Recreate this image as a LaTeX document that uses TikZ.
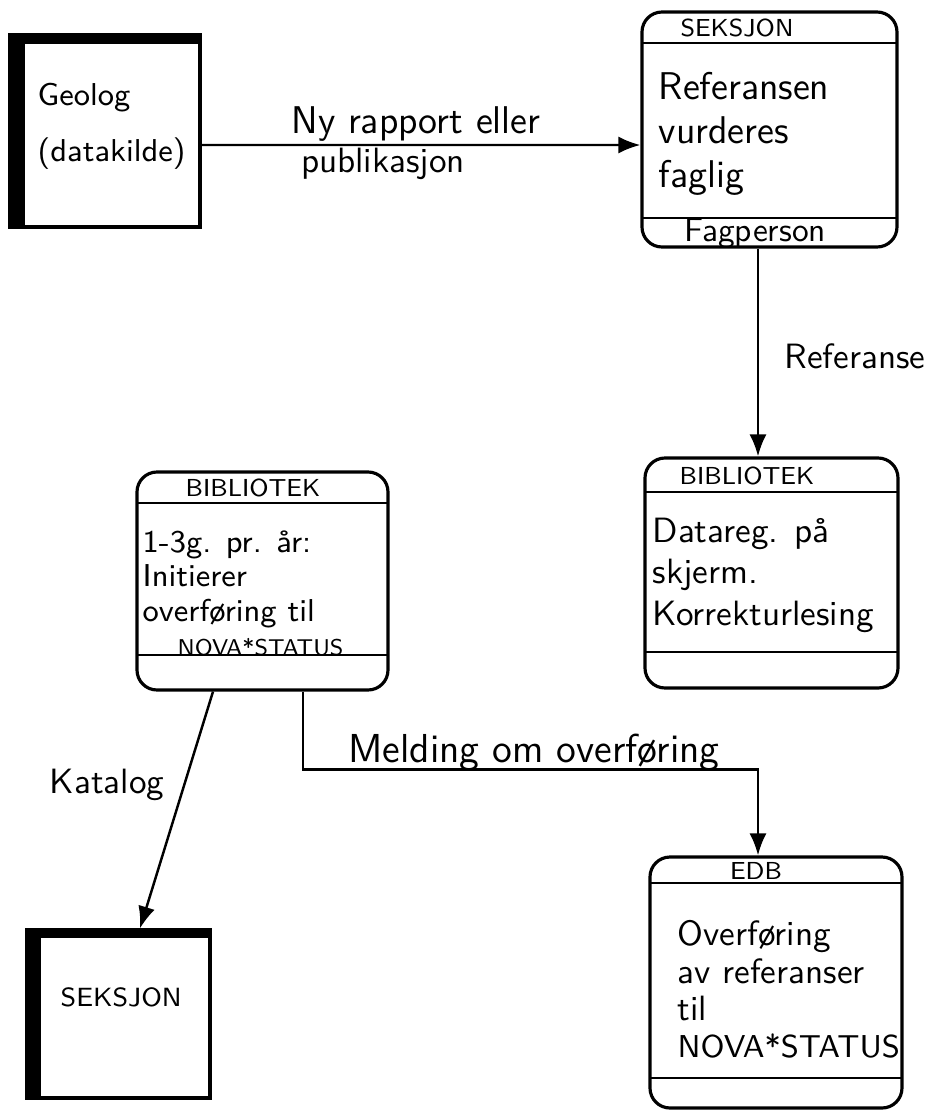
\documentclass[tikz,border=0pt]{standalone}
\usetikzlibrary{arrows.meta,fit,calc}
\begin{document}
\begin{tikzpicture}[x=0.1mm,y=-0.1mm,
  proc/.style={draw, line width=0.9pt, rounded corners=2mm, inner sep=0pt},
  ext/.style={draw, line width=0.9pt, inner sep=0pt},
  divider/.style={line width=0.8pt},
  flow/.style={line width=0.7pt, -{Latex[length=2.2mm,width=1.7mm]}},
  body/.style={font=\sffamily\fontsize{10}{11.5}\selectfont, align=left, anchor=north west, inner sep=0pt},
  hdr/.style={font=\sffamily\fontsize{7}{8}\selectfont, inner sep=0pt},
  lbl/.style={font=\sffamily\fontsize{10}{11.5}\selectfont, inner sep=0pt, align=center},
]
\useasboundingbox (0,0) rectangle (929,1110);
\fill[white] (0,0) rectangle (929,1110);

% external entity: Geolog
\node[ext, fit={(10,35) (200,227)}] (e1) {};
\fill (e1.north west) rectangle ([xshift=1.7mm]e1.south west);
\fill (e1.north west) rectangle ([yshift=-1.1mm]e1.north east);
\node[body, font=\sffamily\fontsize{9}{16}\selectfont] (e1t) at (37,82) {Geolog\\(datakilde)};

% external entity: SEKSJON
\node[ext, fit={(27,930) (210,1098)}] (e2) {};
\fill (e2.north west) rectangle ([xshift=1.6mm]e2.south west);
\fill (e2.north west) rectangle ([yshift=-1mm]e2.north east);
\node[body, font=\sffamily\fontsize{7.5}{9}\selectfont] (e2t) at (60,987) {SEKSJON};

% process: SEKSJON
\node[proc, fit={(642,12) (897,247)}] (p1) {};
\draw[divider] (642,43) -- (897,43);
\draw[divider] (642,218) -- (897,218);
\node[hdr] (p1h) at (737,28) {SEKSJON};
\node[body, font=\sffamily\fontsize{11}{12.5}\selectfont] (p1b) at (658,72) {Referansen\\vurderes\\faglig};
\node[lbl, font=\sffamily\fontsize{9.5}{10}\selectfont] (p1f) at (755,233) {Fagperson};

% process: BIBLIOTEK (left)
\node[proc, fit={(137,472) (388,690)}] (p2) {};
\draw[divider] (137,503) -- (388,503);
\draw[divider] (137,655) -- (388,655);
\node[hdr] (p2h) at (253,488) {BIBLIOTEK};
\node[body, font=\sffamily\fontsize{9}{9.8}\selectfont] (p2b) at (142,530) {1-3g. pr. år:\\Initierer\\overføring til\\\hspace*{3.5mm}{\fontsize{6.5}{9.8}\selectfont NOVA*STATUS}};

% process: BIBLIOTEK (right)
\node[proc, fit={(645,458) (898,688)}] (p3) {};
\draw[divider] (645,492) -- (898,492);
\draw[divider] (645,652) -- (898,652);
\node[hdr] (p3h) at (747,476) {BIBLIOTEK};
\node[body, font=\sffamily\fontsize{10}{11.8}\selectfont] (p3b) at (652,517) {Datareg. på\\skjerm.\\Korrekturlesing};

% process: EDB
\node[proc, fit={(650,857) (902,1108)}] (p4) {};
\draw[divider] (650,883) -- (902,883);
\draw[divider] (650,1078) -- (902,1078);
\node[hdr] (p4h) at (756,871) {EDB};
\node[body, font=\sffamily\fontsize{10}{10.6}\selectfont] (p4b) at (677,920) {Overføring\\av referanser\\til\\{\fontsize{9}{10.6}\selectfont NOVA*STATUS}};

% data flows
\draw[flow] ([yshift=-1.4mm]e1.east) -- ([yshift=-1.55mm]p1.west);
\node[lbl, font=\sffamily\fontsize{11}{12}\selectfont] (l1) at (416,124) {Ny rapport eller};
\node[lbl] (l1b) at (383,164) {publikasjon};

\draw[flow] ([xshift=-1.15mm]p1.south) -- ([xshift=-1.15mm]p1.south |- p3.north);
\node[lbl] (l2) at (855,356) {Referanse};

\draw[flow] ([xshift=-4.95mm]p2.south) -- ([xshift=2.15mm]e2.north);
\node[lbl] (l3) at (107,785) {Katalog};

\draw[flow] ([xshift=4.05mm]p2.south) -- ++(0,78) -| ([xshift=-1.8mm]p4.north);
\node[lbl, font=\sffamily\fontsize{11.5}{12}\selectfont] (l4) at (534,752) {Melding om overføring};
\end{tikzpicture}
\end{document}
